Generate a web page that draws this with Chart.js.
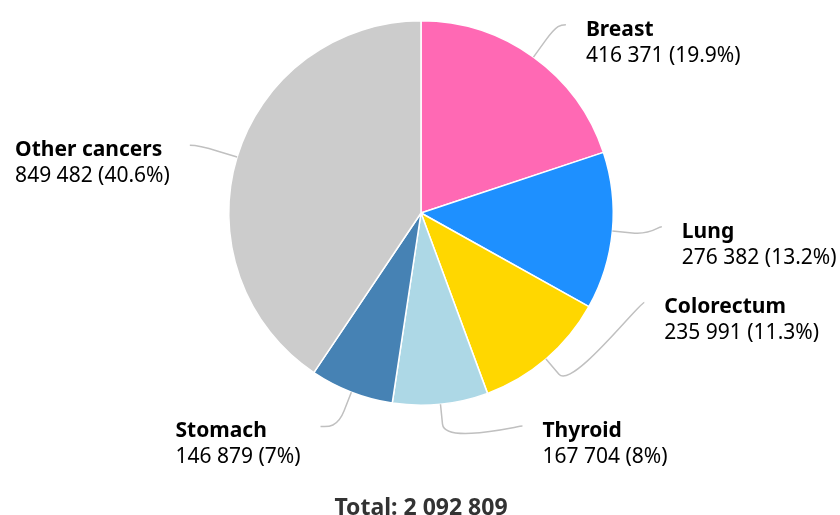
<!DOCTYPE html>
<html>
<head>
<meta charset="utf-8">
<script src="https://cdn.jsdelivr.net/npm/chart.js@4.4.1/dist/chart.umd.min.js"></script>
<style>
  html, body { margin: 0; padding: 0; background: #fff; }
  #wrap { width: 840px; height: 515px; position: relative; }
</style>
</head>
<body>
<div id="wrap"><canvas id="pie"></canvas></div>
<script>
const categories = ["Breast", "Lung", "Colorectum", "Thyroid", "Stomach", "Other cancers"];
const cases = [416371, 276382, 235991, 167704, 146879, 849482];
const sliceColors = ["#ff69b4", "#1e90ff", "#ffd700", "#add8e6", "#4682b4", "#cccccc"];

const FONT = "'Noto Sans', 'Open Sans', sans-serif";
const total = cases.reduce((a, b) => a + b, 0);

// 2092809 -> "2 092 809"
const fmt = (n) => String(n).replace(/\B(?=(\d{3})+(?!\d))/g, " ");
const pct = (n) => String(Math.round(n / total * 1000) / 10) + "%";

// Labels with soft leader lines + total under the pie
const sliceLabels = {
    id: "sliceLabels",
    afterDatasetsDraw(chart, args, opts) {
        const ctx = chart.ctx;
        const meta = chart.getDatasetMeta(0);
        ctx.save();
        meta.data.forEach((arc, i) => {
            const p = arc.getProps(["x", "y", "outerRadius", "startAngle", "endAngle"], true);
            const cx = p.x, cy = p.y, r = p.outerRadius;
            const mid = (p.startAngle + p.endAngle) / 2;
            const cos = Math.cos(mid), sin = Math.sin(mid);
            const isLeft = cos < 0;

            const touch = { x: cx + r * cos, y: cy + r * sin };
            const brk = { x: cx + (r + opts.breakAt) * cos, y: cy + (r + opts.breakAt) * sin };

            const R = r + opts.distance;
            const ly = cy + R * sin + opts.shiftY[i];
            const dy = ly - cy;
            const dx = Math.sqrt(Math.max(R * R - dy * dy, 0)) + opts.padX;
            const lx = isLeft ? cx - dx : cx + dx;

            ctx.beginPath();
            ctx.moveTo(lx, ly);
            ctx.bezierCurveTo(lx + (isLeft ? 5 : -5), ly,
                2 * brk.x - touch.x, 2 * brk.y - touch.y, brk.x, brk.y);
            ctx.lineTo(touch.x, touch.y);
            ctx.strokeStyle = "#c0c0c0";
            ctx.lineWidth = 1.5;
            ctx.stroke();

            const title = categories[i];
            const value = fmt(cases[i]) + " (" + pct(cases[i]) + ")";
            ctx.textBaseline = "middle";
            ctx.textAlign = "left";
            ctx.font = "bold 21px " + FONT;
            const w1 = ctx.measureText(title).width;
            ctx.font = "21px " + FONT;
            const w2 = ctx.measureText(value).width;
            const tx = isLeft ? lx - opts.gap - Math.max(w1, w2) : lx + opts.gap;

            ctx.fillStyle = "#000";
            ctx.font = "bold 21px " + FONT;
            ctx.fillText(title, tx, ly + 5);
            ctx.font = "21px " + FONT;
            ctx.fillText(value, tx, ly + 31);
        });

        const a = chart.chartArea;
        ctx.textAlign = "center";
        ctx.textBaseline = "alphabetic";
        ctx.font = "bold 23px " + FONT;
        ctx.fillStyle = "#333";
        ctx.fillText("Total: " + fmt(total), (a.left + a.right) / 2, 515);
        ctx.restore();
    },
};

new Chart(document.getElementById("pie"), {
    type: "pie",
    data: {
        labels: categories,
        datasets: [{
            data: cases,
            backgroundColor: sliceColors,
            borderColor: "#fff",
            borderWidth: 1.5,
        }],
    },
    options: {
        responsive: true,
        maintainAspectRatio: false,
        animation: false,
        layout: { padding: { top: 19, bottom: 108, left: 228, right: 226 } },
        plugins: {
            legend: { display: false },
            tooltip: { enabled: false },
            sliceLabels: {
                distance: 40,
                breakAt: 20,
                padX: 9,
                gap: 20,
                shiftY: [0, -8, -87, -18, -3, 0],
            },
        },
    },
    plugins: [sliceLabels],
});
</script>
</body>
</html>
